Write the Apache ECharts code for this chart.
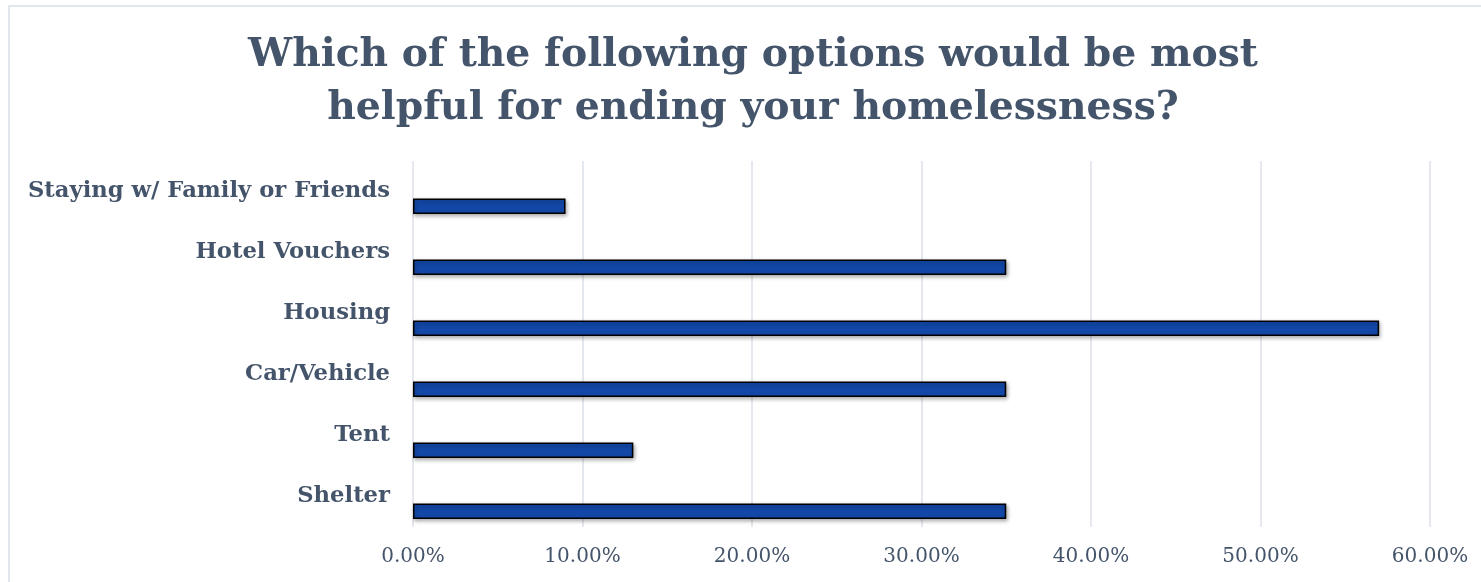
<!DOCTYPE html>
<html>
<head>
<meta charset="utf-8">
<script src="https://cdn.jsdelivr.net/npm/echarts@6/dist/echarts.min.js"></script>
<style>
html,body{margin:0;padding:0;background:#fff;}
#frame{position:absolute;left:8px;top:5px;width:1480px;height:590px;border:2px solid #e1e5ec;box-sizing:border-box;}
#chart{position:absolute;left:0;top:0;width:1481px;height:582px;}
</style>
</head>
<body>
<div id="frame"></div>
<div id="chart"></div>
<script>
const titleText = 'Which of the following options would be most\nhelpful for ending your homelessness?';
const categories = ['Shelter', 'Tent', 'Car/Vehicle', 'Housing', 'Hotel Vouchers', 'Staying w/ Family or Friends'];
const values = [0.35, 0.13, 0.35, 0.57, 0.35, 0.09];
const emptyValues = [null, null, null, null, null, null];
const tickMin = 0, tickMax = 0.6, tickStep = 0.1;

const chart = echarts.init(document.getElementById('chart'));
const serif = '"DejaVu Serif", serif';
chart.setOption({
  animation: false,
  graphic: [{
    type: 'text', x: 753, y: 29,
    style: { text: titleText, textAlign: 'center', textVerticalAlign: 'top',
      fontFamily: serif, fontWeight: 'bold', fontSize: 39.3, lineHeight: 53, fill: '#44546a' }
  }],
  grid: { left: 413, right: 51, top: 161, bottom: 55, containLabel: false },
  xAxis: {
    type: 'value', min: tickMin, max: tickMax, interval: tickStep,
    axisLine: { show: false }, axisTick: { show: false },
    splitLine: { lineStyle: { color: '#dde1e8', width: 1.5 } },
    axisLabel: { margin: 20, fontFamily: serif, fontSize: 20, color: '#44546a',
      formatter: v => (v * 100).toFixed(2) + '%' }
  },
  yAxis: {
    type: 'category', data: categories,
    axisLine: { show: false }, axisTick: { show: false },
    axisLabel: { margin: 23, fontFamily: serif, fontWeight: 'bold', fontSize: 22.7, color: '#44546a' }
  },
  series: [
    { type: 'bar', data: emptyValues, barWidth: 15.5, barGap: '90%' },
    { type: 'bar', data: values, barWidth: 15.5, barGap: '90%',
      itemStyle: { color: '#1348a8', borderColor: '#000', borderWidth: 1.5,
        shadowColor: 'rgba(0,0,0,0.35)', shadowBlur: 4, shadowOffsetX: 1, shadowOffsetY: 2 } }
  ]
});
</script>
</body>
</html>
